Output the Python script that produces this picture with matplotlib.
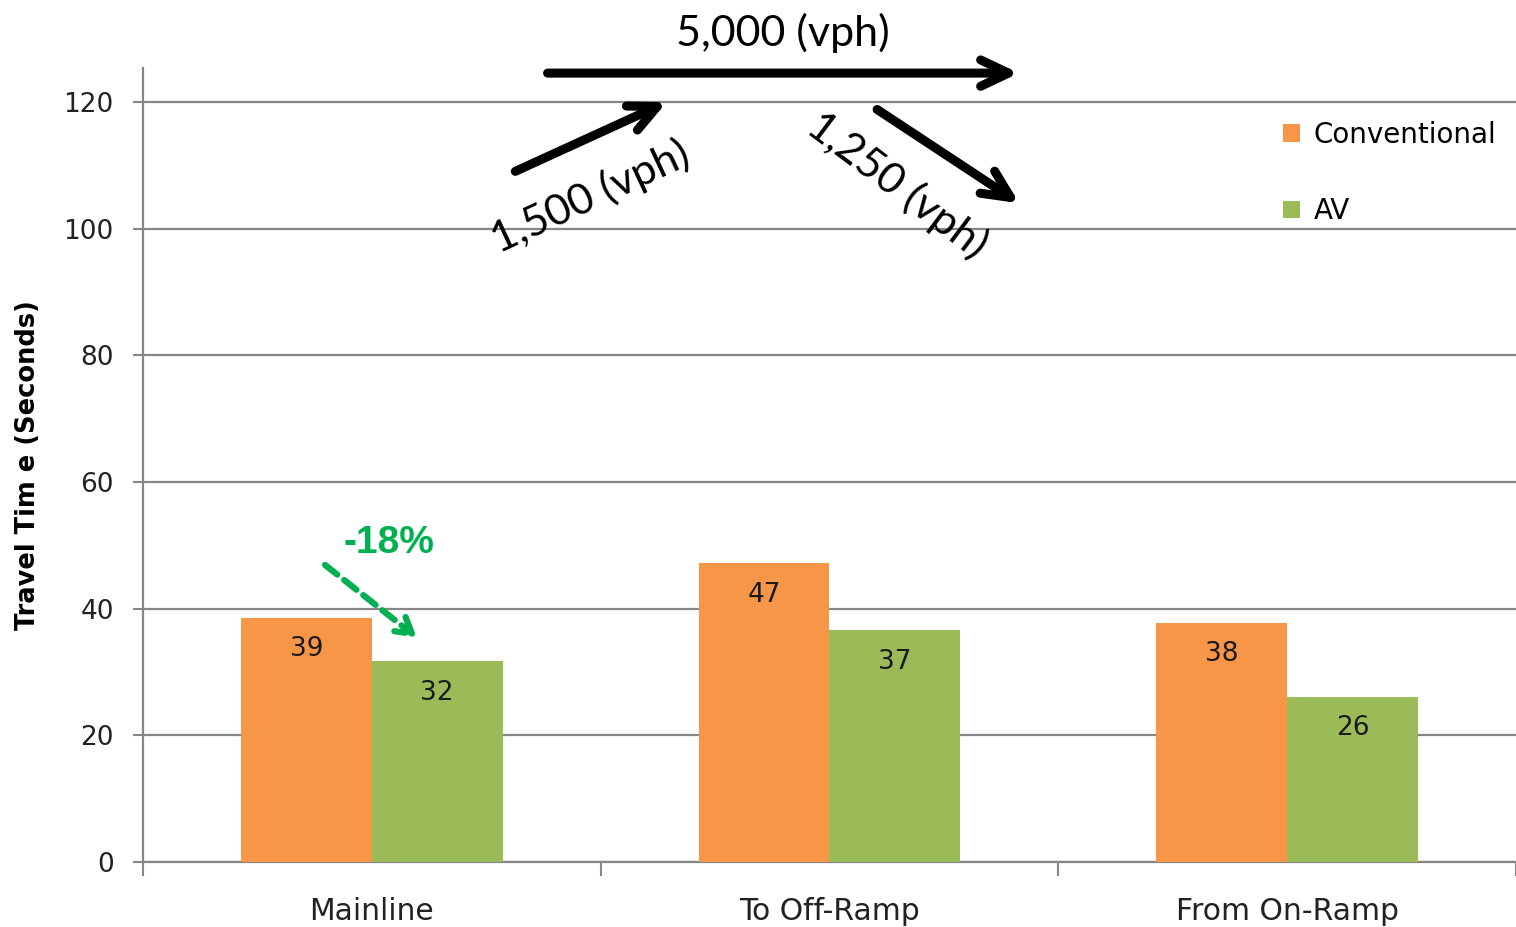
import matplotlib.pyplot as plt
import numpy as np

# categories and values
categorias = ['Mainline', 'To Off-Ramp', 'From On-Ramp']
conventional = [38.6, 47.2, 37.8]
av = [31.7, 36.6, 26.1]
rotulos_conv = ['39', '47', '38']
rotulos_av = ['32', '37', '26']
yticks = [0, 20, 40, 60, 80, 100, 120]

cor_conv = '#F79646'
cor_av = '#9BBB59'
cinza = '#868686'

fig = plt.figure(figsize=(15.16, 9.27), dpi=100)
ax = fig.add_axes([0.0943, 0.0701, 0.9057, 0.8565])

x = np.arange(len(categorias))
w = 0.286
ax.bar(x - w / 2, conventional, w, color=cor_conv, label='Conventional', zorder=3)
ax.bar(x + w / 2, av, w, color=cor_av, label='AV', zorder=3)

for i in range(len(categorias)):
    ax.text(x[i] - w / 2, conventional[i] - 5, rotulos_conv[i], ha='center', va='center',
            fontsize=19, color='#1a1a1a', zorder=4)
    ax.text(x[i] + w / 2, av[i] - 5, rotulos_av[i], ha='center', va='center',
            fontsize=19, color='#1a1a1a', zorder=4)

ax.set_xlim(-0.5, 2.5)
ax.set_ylim(0, 125.4)
ax.set_yticks(yticks)
ax.set_yticklabels([str(t) for t in yticks], fontsize=19, color='#222222')
ax.set_xticks(x)
ax.set_xticklabels(categorias, fontsize=21.5, color='#222222')
ax.set_xticks([-0.5, 0.5, 1.5, 2.5], minor=True)
ax.tick_params(axis='x', which='major', length=0, pad=25)
ax.tick_params(axis='x', which='minor', length=10, width=1.5, color=cinza, direction='out')
ax.tick_params(axis='y', length=7, width=1.5, color=cinza, direction='out', pad=14)
ax.yaxis.grid(True, color=cinza, linewidth=1.6, zorder=0)
ax.set_axisbelow(True)
for s in ['top', 'right']:
    ax.spines[s].set_visible(False)
for s in ['left', 'bottom']:
    ax.spines[s].set_color(cinza)
    ax.spines[s].set_linewidth(1.6)

ax.set_ylabel('Travel Tim e (Seconds)', fontsize=18.5, fontweight='bold')
ax.yaxis.set_label_coords(-0.074, 0.5)

ax.legend(loc='upper right', bbox_to_anchor=(1.004, 0.965), frameon=False, fontsize=20,
          handlelength=0.6, handleheight=0.6, handletextpad=0.5, labelspacing=1.75)

# flow arrows at the top
seta = dict(arrowstyle='->,head_length=2.0,head_width=0.95', color='black', lw=6.5)
ax.annotate('', xy=(1.42, 124.6), xytext=(0.378, 124.6), arrowprops=seta, annotation_clip=False)
ax.annotate('', xy=(0.65, 120.2), xytext=(0.308, 108.9), arrowprops=seta, annotation_clip=False)
ax.annotate('', xy=(1.42, 103.8), xytext=(1.099, 119.1), arrowprops=seta, annotation_clip=False)
fig.text(783 / 1516, 1 - 33 / 927, '5,000 (vph)', ha='center', va='center', fontsize=31, family='Lato')
fig.text(590 / 1516, 1 - 197 / 927, '1,500 (vph)', ha='center', va='center', fontsize=31,
         family='Lato', rotation=25)
fig.text(897 / 1516, 1 - 185 / 927, '1,250 (vph)', ha='center', va='center', fontsize=31,
         family='Lato', rotation=-37)

# change annotation
verde = '#00B050'
ax.annotate('', xy=(0.103, 35.2), xytext=(-0.107, 47.2),
            arrowprops=dict(arrowstyle='->,head_length=1.1,head_width=0.65', color=verde,
                            lw=4.5, linestyle=(0, (2.5, 1.4))))
ax.text(0.037, 50.4, '-18%', ha='center', va='center', fontsize=28, fontweight='bold',
        color=verde, family='Liberation Sans')

fig.savefig('out.png', dpi=100)
